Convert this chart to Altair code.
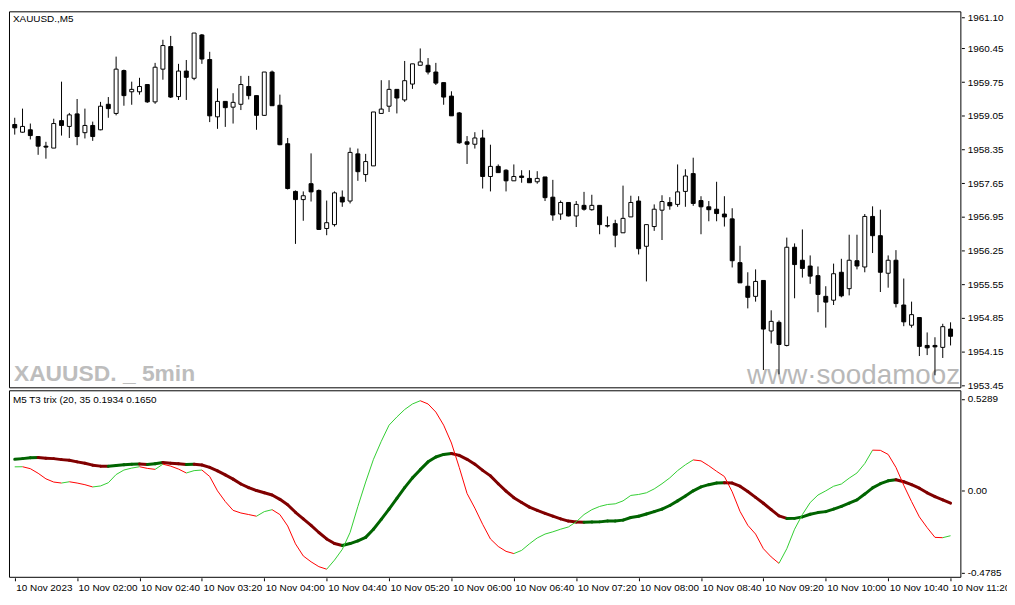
import json
import altair as alt
import pandas as pd

# ---------------- data ----------------
opens = [1958.87, 1958.71, 1958.76, 1958.62, 1958.42, 1958.38, 1958.95, 1958.83, 1959.09, 1958.70,
         1958.85, 1958.76, 1959.29, 1959.10, 1959.99, 1959.55, 1959.55, 1959.70, 1959.34, 1960.02,
         1960.49, 1959.45, 1959.98, 1959.83, 1960.73, 1960.22, 1959.03, 1959.35, 1959.23, 1959.29,
         1959.66, 1959.47, 1959.06, 1959.96, 1959.27, 1958.47, 1957.48, 1957.31, 1957.64, 1957.50,
         1956.71, 1956.79, 1957.36, 1957.28, 1958.26, 1957.83, 1958.01, 1959.10, 1959.25, 1959.60,
         1959.38, 1959.71, 1960.10, 1960.10, 1959.96, 1959.74, 1959.46, 1959.11, 1958.51, 1958.46,
         1958.59, 1957.79, 1958.00, 1957.92, 1957.70, 1957.80, 1957.75, 1957.68, 1957.78, 1957.36,
         1957.01, 1957.25, 1956.97, 1957.19, 1957.10, 1957.19, 1956.77, 1956.81, 1956.62, 1956.95,
         1957.28, 1956.34, 1956.75, 1957.09, 1957.25, 1957.21, 1957.48, 1957.85, 1957.29, 1957.16,
         1957.11, 1957.01, 1956.91, 1956.00, 1955.51, 1955.30, 1955.63, 1954.58, 1954.76, 1954.28,
         1956.32, 1956.05, 1955.93, 1955.73, 1955.30, 1955.22, 1955.80, 1955.46, 1956.04, 1955.91,
         1956.96, 1956.56, 1955.78, 1956.05, 1955.12, 1954.70, 1954.86, 1954.28, 1954.28, 1954.24,
         1954.62]
highs = [1959.01, 1959.20, 1958.89, 1958.63, 1958.51, 1958.99, 1959.76, 1959.11, 1959.40, 1959.20,
         1958.93, 1959.34, 1959.44, 1960.28, 1960.01, 1959.76, 1959.84, 1959.70, 1960.15, 1960.63,
         1960.71, 1960.13, 1960.21, 1960.77, 1960.75, 1960.38, 1959.62, 1959.35, 1959.52, 1959.88,
         1959.88, 1959.47, 1959.96, 1959.99, 1959.49, 1958.59, 1957.50, 1957.48, 1958.27, 1957.52,
         1957.29, 1957.48, 1957.50, 1958.39, 1958.37, 1958.26, 1959.13, 1959.79, 1959.79, 1959.60,
         1960.19, 1960.13, 1960.45, 1960.25, 1960.15, 1959.74, 1959.56, 1959.13, 1958.63, 1958.71,
         1958.76, 1958.45, 1958.04, 1957.94, 1958.04, 1957.92, 1957.92, 1957.90, 1957.78, 1957.72,
         1957.29, 1957.25, 1957.28, 1957.47, 1957.41, 1957.19, 1956.96, 1956.89, 1957.60, 1957.39,
         1957.38, 1956.79, 1957.21, 1957.40, 1957.36, 1958.04, 1957.94, 1958.18, 1957.38, 1957.28,
         1957.68, 1957.38, 1957.13, 1956.35, 1955.80, 1955.86, 1955.63, 1955.01, 1954.80, 1956.52,
         1956.40, 1956.69, 1956.15, 1955.92, 1955.51, 1955.98, 1956.08, 1956.58, 1956.58, 1957.01,
         1957.17, 1957.10, 1956.15, 1956.26, 1955.67, 1955.19, 1954.86, 1954.55, 1954.45, 1954.73,
         1954.76]
lows = [1958.66, 1958.70, 1958.56, 1958.24, 1958.16, 1958.38, 1958.64, 1958.59, 1958.44, 1958.58,
        1958.53, 1958.75, 1959.01, 1959.06, 1959.26, 1959.28, 1959.49, 1959.32, 1959.30, 1959.80,
        1959.42, 1959.38, 1959.38, 1959.79, 1960.13, 1958.92, 1958.78, 1958.82, 1958.89, 1959.17,
        1959.39, 1958.76, 1959.05, 1959.26, 1958.44, 1957.52, 1956.39, 1956.87, 1957.27, 1956.68,
        1956.57, 1956.75, 1957.16, 1957.23, 1957.70, 1957.68, 1958.01, 1959.10, 1959.13, 1959.10,
        1959.34, 1959.61, 1960.10, 1959.91, 1959.69, 1959.28, 1959.05, 1958.47, 1958.05, 1958.37,
        1957.54, 1957.48, 1957.87, 1957.48, 1957.70, 1957.66, 1957.66, 1957.64, 1957.28, 1956.87,
        1956.89, 1956.96, 1956.74, 1957.08, 1957.08, 1956.59, 1956.73, 1956.32, 1956.62, 1956.95,
        1956.17, 1955.61, 1956.66, 1956.47, 1957.10, 1957.16, 1957.16, 1957.18, 1956.59, 1956.86,
        1956.86, 1956.75, 1955.90, 1955.58, 1955.05, 1955.19, 1953.77, 1954.32, 1953.68, 1954.26,
        1955.26, 1955.69, 1955.56, 1954.97, 1954.65, 1955.12, 1955.28, 1955.32, 1955.86, 1955.80,
        1956.20, 1955.39, 1955.48, 1955.07, 1954.68, 1954.65, 1954.06, 1954.08, 1953.66, 1954.02,
        1954.28]
closes = [1958.80, 1958.83, 1958.64, 1958.42, 1958.40, 1958.89, 1958.85, 1959.07, 1958.62, 1958.85,
          1958.62, 1959.25, 1959.20, 1960.02, 1959.47, 1959.60, 1959.66, 1959.34, 1960.06, 1960.51,
          1959.44, 1959.98, 1959.85, 1960.77, 1960.23, 1959.05, 1959.35, 1959.22, 1959.33, 1959.70,
          1959.47, 1959.06, 1959.96, 1959.26, 1958.45, 1957.54, 1957.31, 1957.39, 1957.47, 1956.69,
          1956.83, 1957.45, 1957.26, 1958.29, 1957.89, 1958.10, 1959.13, 1959.19, 1959.60, 1959.42,
          1959.78, 1960.13, 1960.17, 1959.96, 1959.73, 1959.44, 1959.05, 1958.49, 1958.46, 1958.59,
          1957.79, 1958.00, 1957.87, 1957.70, 1957.79, 1957.77, 1957.66, 1957.75, 1957.35, 1956.99,
          1957.25, 1956.97, 1957.21, 1957.11, 1957.19, 1956.79, 1956.76, 1956.57, 1956.92, 1957.25,
          1956.29, 1956.79, 1957.11, 1957.27, 1957.18, 1957.47, 1957.80, 1957.23, 1957.16, 1957.10,
          1957.02, 1956.95, 1956.04, 1955.58, 1955.28, 1955.61, 1954.62, 1954.78, 1954.30, 1956.32,
          1955.96, 1955.88, 1955.72, 1955.34, 1955.18, 1955.77, 1955.31, 1956.05, 1955.93, 1956.96,
          1956.56, 1955.80, 1956.05, 1955.15, 1954.77, 1954.92, 1954.26, 1954.23, 1954.25, 1954.67,
          1954.47]

trix_slow = [0.1785, 0.1825, 0.1881, 0.1885, 0.1842, 0.1825, 0.1768, 0.1729, 0.1638, 0.1559,
             0.1446, 0.1390, 0.1384, 0.1429, 0.1469, 0.1503, 0.1508, 0.1486, 0.1525, 0.1599,
             0.1559, 0.1525, 0.1486, 0.1503, 0.1458, 0.1316, 0.1119, 0.0881, 0.0638, 0.0356,
             0.0147, -0.0023, -0.0153, -0.0282, -0.0531, -0.0847, -0.1282, -0.1661, -0.2034, -0.2452,
             -0.2825, -0.3090, -0.3203, -0.3090, -0.2938, -0.2734, -0.2260, -0.1695, -0.1096, -0.0475,
             0.0147, 0.0712, 0.1186, 0.1638, 0.1921, 0.2068, 0.2124, 0.2011, 0.1785, 0.1503,
             0.1147, 0.0825, 0.0373, -0.0056, -0.0435, -0.0718, -0.0983, -0.1169, -0.1339, -0.1508,
             -0.1661, -0.1791, -0.1847, -0.1859, -0.1847, -0.1836, -0.1791, -0.1785, -0.1734, -0.1582,
             -0.1508, -0.1379, -0.1243, -0.1096, -0.0887, -0.0621, -0.0339, -0.0040, 0.0186, 0.0316,
             0.0412, 0.0429, 0.0412, 0.0226, -0.0079, -0.0418, -0.0757, -0.1130, -0.1492, -0.1638,
             -0.1633, -0.1548, -0.1395, -0.1299, -0.1243, -0.1096, -0.0944, -0.0757, -0.0565, -0.0226,
             0.0130, 0.0373, 0.0542, 0.0599, 0.0486, 0.0316, 0.0113, -0.0153, -0.0379, -0.0565,
             -0.0757]
trix_fast = [0.1350, 0.1356, 0.1243, 0.0977, 0.0655, 0.0469, 0.0412, 0.0486, 0.0412, 0.0316,
             0.0186, 0.0243, 0.0429, 0.0904, 0.1164, 0.1277, 0.1356, 0.1260, 0.1203, 0.1503,
             0.1390, 0.1220, 0.0994, 0.1130, 0.1164, 0.0791, -0.0040, -0.0661, -0.1169, -0.1322,
             -0.1412, -0.1508, -0.1243, -0.1130, -0.1412, -0.2073, -0.3107, -0.3808, -0.4147, -0.4429,
             -0.4576, -0.4051, -0.3429, -0.2452, -0.0944, 0.0469, 0.1785, 0.2825, 0.3763, 0.4237,
             0.4667, 0.4989, 0.5175, 0.4989, 0.4520, 0.3763, 0.2729, 0.1316, -0.0192, -0.1040,
             -0.1977, -0.2825, -0.3260, -0.3542, -0.3672, -0.3486, -0.3107, -0.2768, -0.2542, -0.2412,
             -0.2260, -0.2130, -0.1831, -0.1412, -0.1130, -0.0944, -0.0831, -0.0791, -0.0621, -0.0305,
             -0.0249, -0.0153, 0.0073, 0.0373, 0.0712, 0.1130, 0.1469, 0.1751, 0.1695, 0.1412,
             0.1090, 0.0791, -0.0096, -0.1226, -0.2034, -0.2542, -0.3390, -0.3864, -0.4237, -0.3390,
             -0.2260, -0.1412, -0.0718, -0.0282, -0.0040, 0.0226, 0.0356, 0.0695, 0.0994, 0.1542,
             0.2316, 0.2305, 0.2068, 0.1316, 0.0282, -0.0661, -0.1548, -0.2169, -0.2734, -0.2751,
             -0.2638]

price_ticks = [1953.45, 1954.15, 1954.85, 1955.55, 1956.25, 1956.95, 1957.65,
               1958.35, 1959.05, 1959.75, 1960.45, 1961.10]
ind_ticks = [0.5289, 0.0, -0.4785]
ind_tick_labels = ["0.5289", "0.00", "-0.4785"]
x_tick_labels = ["10 Nov 2023", "10 Nov 02:00", "10 Nov 02:40", "10 Nov 03:20", "10 Nov 04:00",
                 "10 Nov 04:40", "10 Nov 05:20", "10 Nov 06:00", "10 Nov 06:40", "10 Nov 07:20",
                 "10 Nov 08:00", "10 Nov 08:40", "10 Nov 09:20", "10 Nov 10:00", "10 Nov 10:40",
                 "10 Nov 11:20"]
symbol_label = "XAUUSD.,M5"
indicator_label = "M5 T3 trix (20, 35 0.1934 0.1650"
watermark_left = "XAUUSD. _ 5min"
watermark_right = "www\u00b7soodamooz"

# ---------------- layout ----------------
W, H = 960, 571
MAIN_H, GAP = 379, 3
IND_TOP = MAIN_H + GAP
FONT = "Liberation Sans"

price_top, price_bot = 1961.221, 1953.410
ppx = (price_top - price_bot) / MAIN_H
price_domain = [price_top - H * ppx, price_top]

ind_hi, ind_lo = 0.578, -0.5073
ipx = (ind_hi - ind_lo) / (H - IND_TOP)
ind_domain = [ind_lo, ind_lo + H * ipx]

x_domain = [-0.1, 120.75]

# ---------------- tables ----------------
n = len(opens)
cdf = pd.DataFrame({"i": list(range(n)), "open": opens, "high": highs,
                    "low": lows, "close": closes})
cdf["top"] = cdf[["open", "close"]].max(axis=1)
cdf["bot"] = cdf[["open", "close"]].min(axis=1)
cdf["fill"] = ["white" if c > o else "black" for o, c in zip(opens, closes)]


def segments(vals, up, down):
    rows = []
    for k in range(1, len(vals)):
        rows.append({"x0": k - 1, "x1": k, "v0": vals[k - 1], "v1": vals[k],
                     "col": up if vals[k] > vals[k - 1] else down})
    return pd.DataFrame(rows)


slow_df = segments(trix_slow, "#006400", "#800000")
fast_df = segments(trix_fast, "#32CD32", "#FF0000")

# ---------------- scales / axes ----------------
x_scale = alt.Scale(domain=x_domain, nice=False, zero=False)
x_axis = alt.Axis(values=list(range(0, 121, 8)),
                  labelExpr=json.dumps(x_tick_labels) + "[round(datum.value / 8)]",
                  orient="bottom", tickSize=3, labelPadding=2, labelAlign="left",
                  labelBaseline="top", labelOffset=1, labelFont=FONT, labelFontSize=10,
                  labelColor="black", tickColor="black", domain=False, grid=False,
                  title=None, labelOverlap=False, labelFlush=False, labelBound=False)

price_scale = alt.Scale(domain=price_domain, nice=False, zero=False)
price_axis = alt.Axis(orient="right", values=price_ticks, format=".2f", tickSize=3,
                      labelPadding=3, domain=False, grid=False, title=None,
                      labelFont=FONT, labelFontSize=10, labelColor="black",
                      tickColor="black", labelOverlap=False, labelBound=False)

ind_scale = alt.Scale(domain=ind_domain, nice=False, zero=False)
ind_expr = ("datum.value > 0.1 ? '%s' : (datum.value < -0.1 ? '%s' : '%s')"
            % (ind_tick_labels[0], ind_tick_labels[2], ind_tick_labels[1]))
ind_axis = alt.Axis(orient="right", values=ind_ticks, labelExpr=ind_expr, tickSize=3,
                    labelPadding=3, domain=False, grid=False, title=None,
                    labelFont=FONT, labelFontSize=10, labelColor="black",
                    tickColor="black", labelOverlap=False, labelBound=False)

# ---------------- price panel ----------------
wm_left = alt.Chart(pd.DataFrame({"t": [watermark_left]})).mark_text(
    align="left", baseline="alphabetic", font=FONT,
    fontWeight="bold", fontSize=23, color="#bdbdbd"
).encode(text="t:N", x=alt.value(5), y=alt.value(373))

wm_right = alt.Chart(pd.DataFrame({"t": [watermark_right]})).mark_text(
    align="left", baseline="alphabetic", font=FONT, fontSize=28, color="#b8b8b8"
).encode(text="t:N", x=alt.value(744), y=alt.value(376))

wicks = alt.Chart(cdf).mark_rule(color="black", strokeWidth=1).encode(
    x=alt.X("i:Q", scale=x_scale, axis=x_axis),
    y=alt.Y("low:Q", scale=price_scale, axis=price_axis),
    y2="high:Q",
)
bodies = alt.Chart(cdf).mark_bar(size=4, stroke="black", strokeWidth=1).encode(
    x=alt.X("i:Q", scale=x_scale, axis=x_axis),
    y=alt.Y("bot:Q", scale=price_scale, axis=price_axis),
    y2="top:Q",
    fill=alt.Fill("fill:N", scale=None),
)
price_panel = alt.layer(wm_left, wm_right, wicks, bodies)

# ---------------- indicator panel ----------------
slow_line = alt.Chart(slow_df).mark_rule(strokeWidth=3, strokeCap="round").encode(
    x=alt.X("x0:Q", scale=x_scale, axis=x_axis), x2="x1:Q",
    y=alt.Y("v0:Q", scale=ind_scale, axis=ind_axis), y2="v1:Q",
    color=alt.Color("col:N", scale=None),
)
fast_line = alt.Chart(fast_df).mark_rule(strokeWidth=1).encode(
    x=alt.X("x0:Q", scale=x_scale, axis=x_axis), x2="x1:Q",
    y=alt.Y("v0:Q", scale=ind_scale, axis=ind_axis), y2="v1:Q",
    color=alt.Color("col:N", scale=None),
)
ind_panel = alt.layer(slow_line, fast_line)

# ---------------- frames and labels ----------------
one = pd.DataFrame({"k": [0]})
frame_main = alt.Chart(one).mark_rect(fillOpacity=0, stroke="black", strokeWidth=1).encode(
    x=alt.value(0.5), x2=alt.value(W - 0.5), y=alt.value(0.5), y2=alt.value(MAIN_H + 0.5))
frame_ind = alt.Chart(one).mark_rect(fillOpacity=0, stroke="black", strokeWidth=1).encode(
    x=alt.value(0.5), x2=alt.value(W - 0.5), y=alt.value(IND_TOP + 0.5), y2=alt.value(H - 0.5))
sym_text = alt.Chart(pd.DataFrame({"t": [symbol_label]})).mark_text(
    align="left", baseline="middle", font=FONT, fontSize=10, color="black"
).encode(text="t:N", x=alt.value(4), y=alt.value(8))
ind_text = alt.Chart(pd.DataFrame({"t": [indicator_label]})).mark_text(
    align="left", baseline="middle", font=FONT, fontSize=10, color="black"
).encode(text="t:N", x=alt.value(4), y=alt.value(IND_TOP + 9.5))
decor = alt.layer(frame_main, frame_ind, sym_text, ind_text)

chart = alt.layer(price_panel, ind_panel, decor).resolve_scale(
    y="independent"
).properties(
    width=W, height=H,
    padding={"left": 1, "top": 1, "right": 46, "bottom": 17},
    autosize=alt.AutoSizeParams(type="none"),
    background="white",
).configure_view(stroke=None)

chart.save("out.html", embed_options={"renderer": "svg", "actions": False})
